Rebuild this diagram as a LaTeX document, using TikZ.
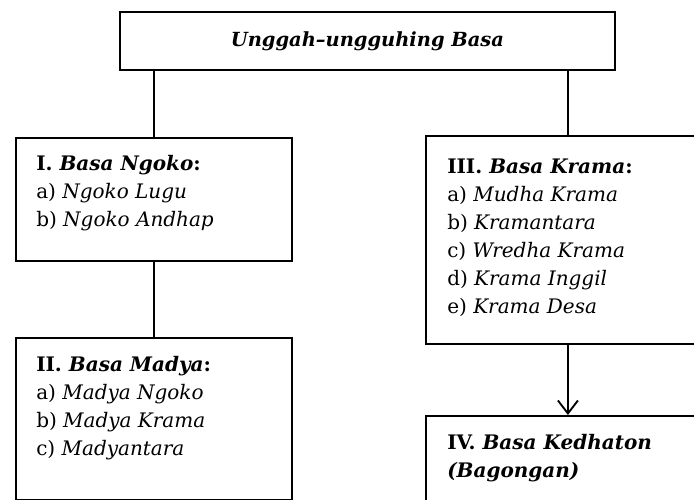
\documentclass[tikz,border=0pt]{standalone}
\usepackage{fontspec}
\setmainfont{DejaVu Serif}
\usetikzlibrary{arrows.meta}
\begin{document}
\begin{tikzpicture}[x=0.75pt,y=-0.75pt,
  box/.style={draw,line width=1.4pt,rectangle,inner sep=0pt,anchor=north west},
  link/.style={line width=1.4pt},
  txt/.style={anchor=base west,inner sep=0pt,align=left,font=\fontsize{15}{21}\selectfont},
  ttl/.style={inner sep=0pt,font=\fontsize{14.6}{18}\selectfont\bfseries\itshape},
]
\useasboundingbox (0,0) rectangle (694,500);
\clip (0,0) rectangle (694,500);
\node[box,minimum width=371.25pt,minimum height=43.5pt] (top) at (119,11) {};
\node[box,minimum width=207pt,minimum height=92.25pt] (I) at (15,137) {};
\node[box,minimum width=207pt,minimum height=121.5pt] (II) at (15,337) {};
\node[box,minimum width=213pt,minimum height=156pt] (III) at (425,135) {};
\node[box,minimum width=213pt,minimum height=90pt] (IV) at (425,415) {};
\node[ttl] (ttltext) at (top.center) {Unggah–ungguhing Basa};
\node[txt] (tI) at (36,226) {\textbf{I. \textit{Basa Ngoko}:}\\a) \textit{Ngoko Lugu}\\b) \textit{Ngoko Andhap}};
\node[txt] (tII) at (36,455) {\textbf{II. \textit{Basa Madya}:}\\a) \textit{Madya Ngoko}\\b) \textit{Madya Krama}\\c) \textit{Madyantara}};
\node[txt] (tIII) at (447,313) {\textbf{III. \textit{Basa Krama}:}\\a) \textit{Mudha Krama}\\b) \textit{Kramantara}\\c) \textit{Wredha Krama}\\d) \textit{Krama Inggil}\\e) \textit{Krama Desa}};
\node[txt] (tIV) at (447,477) {\textbf{IV. \textit{Basa Kedhaton}}\\\textbf{\textit{(Bagongan)}}};
\draw[link] (top.south -| I.north) -- (I.north);
\draw[link] (top.south -| III.north) -- (III.north);
\draw[link] (I.south) -- (II.north);
\draw[link,-{Straight Barb[length=9.75pt,width=15pt]}] (III.south) -- (IV.north);
\end{tikzpicture}
\end{document}
